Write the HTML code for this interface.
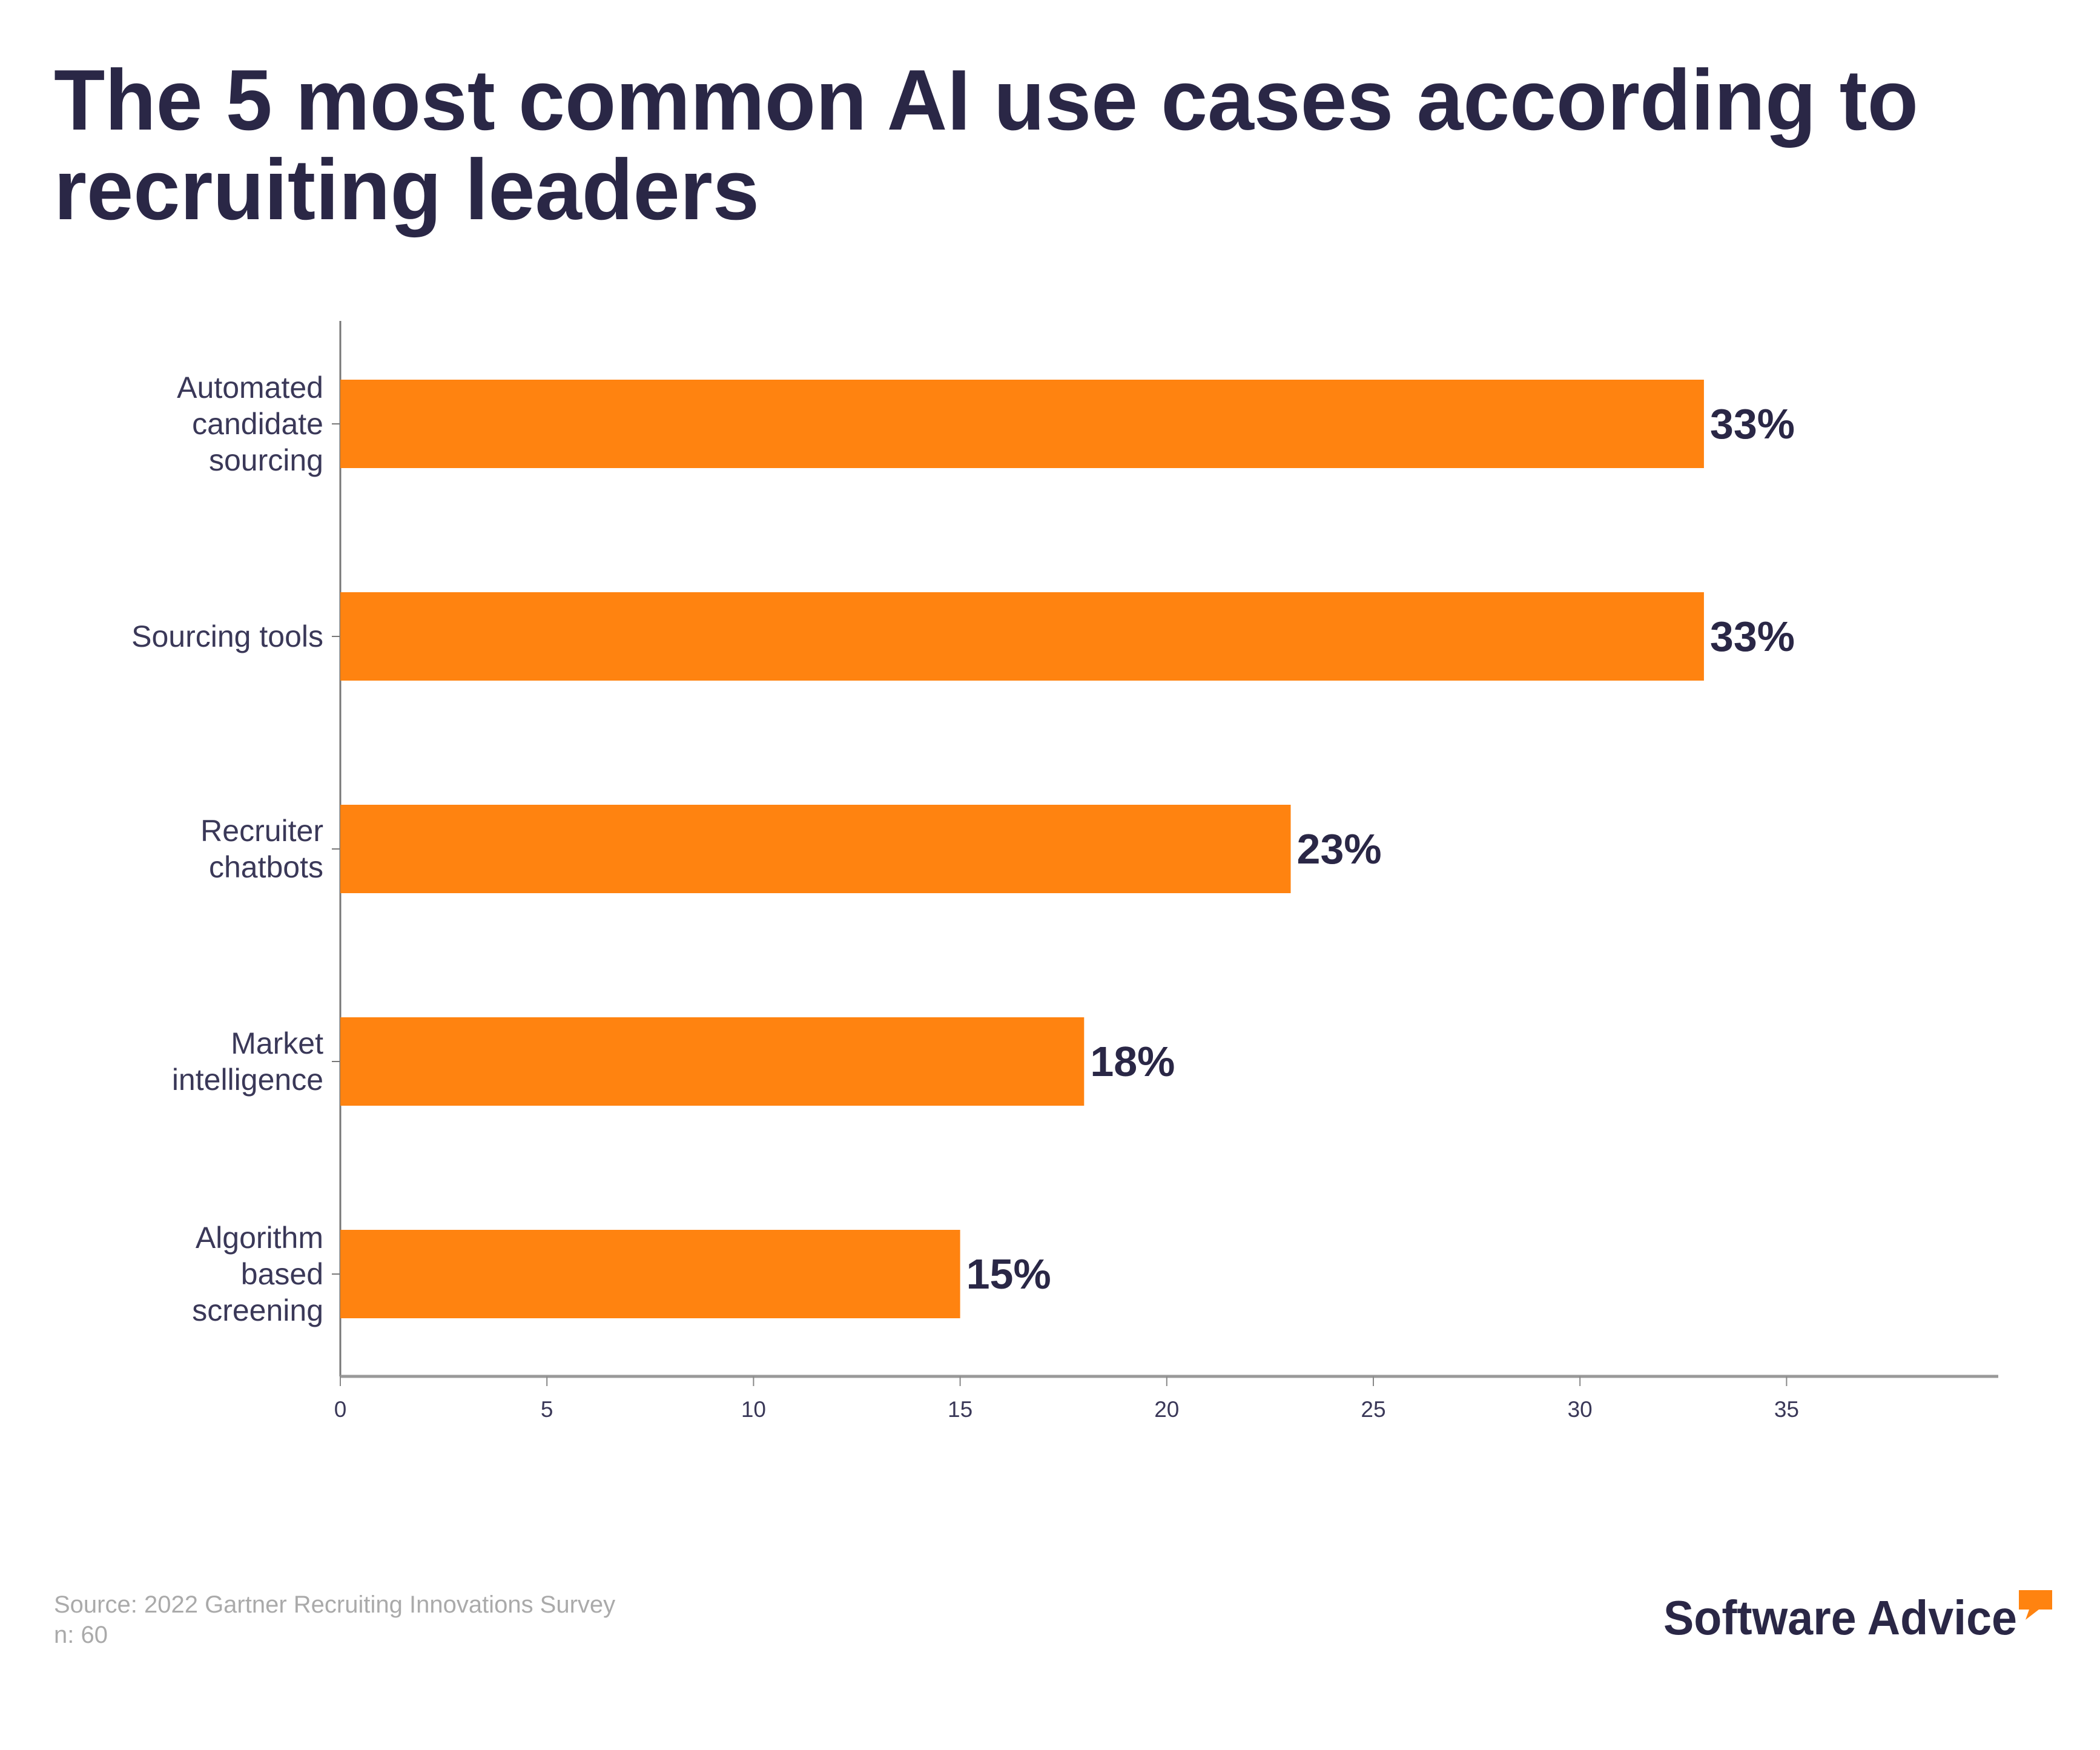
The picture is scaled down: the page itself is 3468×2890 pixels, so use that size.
<!DOCTYPE html>
<html><head><meta charset="utf-8"><style>
html,body{margin:0;padding:0;background:#fff;}
svg{display:block;}
</style></head><body>
<svg width="3468" height="2890" viewBox="0 0 3468 2890" xmlns="http://www.w3.org/2000/svg">
<g font-family="Liberation Sans, sans-serif" font-weight="bold" fill="#2a2746">
<text x="89" y="214" font-size="142" textLength="3079" lengthAdjust="spacingAndGlyphs">The 5 most common AI use cases according to</text>
<text x="89" y="362" font-size="142" textLength="1165" lengthAdjust="spacingAndGlyphs">recruiting leaders</text>
</g>
<g id="plot"></g>
<g font-family="Liberation Sans, sans-serif">
<text x="89" y="2663" font-size="40" fill="#aaaaaa">Source: 2022 Gartner Recruiting Innovations Survey</text>
<text x="89" y="2713" font-size="40" fill="#aaaaaa">n: 60</text>
<text x="2747" y="2699" font-size="80" font-weight="bold" fill="#2a2746" textLength="584" lengthAdjust="spacingAndGlyphs">Software Advice</text>
<path d="M3334 2626 h55 v32 h-22 l-22 17 l6 -17 h-17 z" fill="#ff8310"/>
</g>
<script>
const categories=["Automated\ncandidate\nsourcing","Sourcing tools","Recruiter\nchatbots","Market\nintelligence","Algorithm\nbased\nscreening"];
const values=[33,33,23,18,15];
const valueLabels=["33%","33%","23%","18%","15%"];
const ticks=[0,5,10,15,20,25,30,35];
const NS="http://www.w3.org/2000/svg";
const g=document.getElementById('plot');
const x0=562, unit=68.24, axisY=2273, top0=700, step=351, bh=146;
const xs=v=>x0+v*unit;
const yc=i=>top0+i*step;
function mk(t,a){const e=document.createElementNS(NS,t);for(const k in a)e.setAttribute(k,a[k]);g.appendChild(e);return e;}
let e;
e=mk('line',{x1:x0,y1:530,x2:x0,y2:axisY,stroke:'#777','stroke-width':3});


e=mk('line',{x1:x0,y1:axisY,x2:3300,y2:axisY,stroke:'#999','stroke-width':5});


ticks.forEach(t=>{
 e=mk('line',{x1:xs(t),y1:axisY,x2:xs(t),y2:axisY+16,stroke:'#888','stroke-width':2});
 
 
 e=mk('text',{x:xs(t),y:axisY+67,'font-size':37,'text-anchor':'middle',fill:'#3a3858','font-family':'Liberation Sans, sans-serif'});
 e.textContent=t;
 
 
});
categories.forEach((c,i)=>{
 const y=yc(i);
 e=mk('rect',{x:x0,y:y-bh/2,width:xs(values[i])-x0,height:bh,fill:'#ff8310'});
 
 
 e=mk('text',{x:xs(values[i])+10,y:y+24,'font-size':70,'font-weight':'bold',fill:'#2a2746','font-family':'Liberation Sans, sans-serif'});
 e.textContent=valueLabels[i];
 
 
 e=mk('line',{x1:x0-14,y1:y,x2:x0,y2:y,stroke:'#777','stroke-width':2});
 
 
 const lines=c.split('\n');
 const lh=60;
 const t=mk('text',{'font-size':50,'text-anchor':'end',fill:'#3a3858','font-family':'Liberation Sans, sans-serif'});
 
 
 lines.forEach((l,j)=>{
  const s=document.createElementNS(NS,'tspan');
  s.setAttribute('x',534);
  s.setAttribute('y',y+17+(j-(lines.length-1)/2)*lh);
  s.textContent=l;
  t.appendChild(s);
 });
});
</script>
</svg>
</body></html>
